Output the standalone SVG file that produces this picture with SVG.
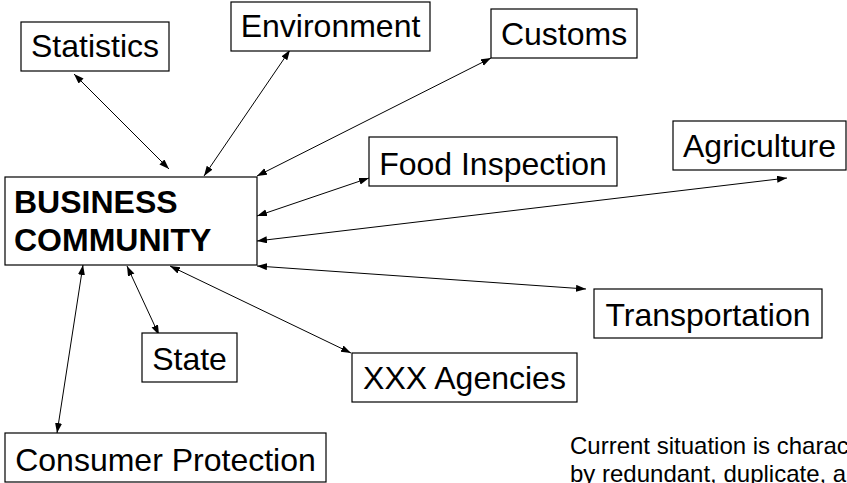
<svg xmlns="http://www.w3.org/2000/svg" width="847" height="483" viewBox="0 0 847 483">
<style>
.box{fill:#fff;stroke:#000;stroke-width:1.2}
.lbl{font-family:"Liberation Sans",Arial,sans-serif;font-size:32px;fill:#000;text-anchor:middle}
.bold{font-family:"Liberation Sans",Arial,sans-serif;font-size:32px;font-weight:bold;fill:#000}
.note{font-family:"Liberation Sans",Arial,sans-serif;font-size:24px;fill:#000}
.con{stroke:#000;stroke-width:1;fill:none;marker-start:url(#ah);marker-end:url(#ah)}
</style>
<defs>
<marker id="ah" markerUnits="userSpaceOnUse" markerWidth="10" markerHeight="8" refX="10" refY="3.5" orient="auto-start-reverse">
<path d="M0,0 L10,3.5 L0,7 z" fill="#000"/>
</marker>
</defs>
<rect width="847" height="483" fill="#fff"/>
<g id="connectors">
<line class="con" x1="74" y1="74" x2="169" y2="169"/>
<line class="con" x1="290" y1="50" x2="204" y2="176"/>
<line class="con" x1="491" y1="58" x2="257" y2="176"/>
<line class="con" x1="369" y1="178" x2="257" y2="216"/>
<line class="con" x1="787" y1="178" x2="257" y2="241"/>
<line class="con" x1="257" y1="266" x2="586" y2="289"/>
<line class="con" x1="170" y1="266" x2="351" y2="353"/>
<line class="con" x1="127" y1="266" x2="159" y2="335"/>
<line class="con" x1="83" y1="265" x2="57" y2="433"/>
</g>
<g id="business">
<rect class="box" x="5" y="177" width="252" height="88"/>
<text class="bold" x="14" y="213">BUSINESS</text>
<text class="bold" x="14" y="250.5">COMMUNITY</text>
</g>
<g id="statistics">
<rect class="box" x="21" y="22" width="148" height="49"/>
<text class="lbl" x="95" y="57">Statistics</text>
</g>
<g id="environment">
<rect class="box" x="231" y="2" width="199" height="49"/>
<text class="lbl" x="330.5" y="37">Environment</text>
</g>
<g id="customs">
<rect class="box" x="491" y="9" width="146" height="49"/>
<text class="lbl" x="564" y="45">Customs</text>
</g>
<g id="food">
<rect class="box" x="369" y="137" width="248" height="49"/>
<text class="lbl" x="493" y="175">Food Inspection</text>
</g>
<g id="agriculture">
<rect class="box" x="673" y="121" width="173" height="49"/>
<text class="lbl" x="759.5" y="157">Agriculture</text>
</g>
<g id="transportation">
<rect class="box" x="594" y="289" width="228" height="49"/>
<text class="lbl" x="708" y="326">Transportation</text>
</g>
<g id="xxx">
<rect class="box" x="352" y="353" width="225" height="49"/>
<text class="lbl" x="464.5" y="389">XXX Agencies</text>
</g>
<g id="state">
<rect class="box" x="142" y="333" width="95" height="49"/>
<text class="lbl" x="189.5" y="370">State</text>
</g>
<g id="consumer">
<rect class="box" x="5" y="433" width="321" height="49"/>
<text class="lbl" x="165.5" y="471">Consumer Protection</text>
</g>
<g id="note">
<text class="note" x="570" y="454">Current situation is characterized</text>
<text class="note" x="570" y="482">by redundant, duplicate, and</text>
</g>
</svg>
